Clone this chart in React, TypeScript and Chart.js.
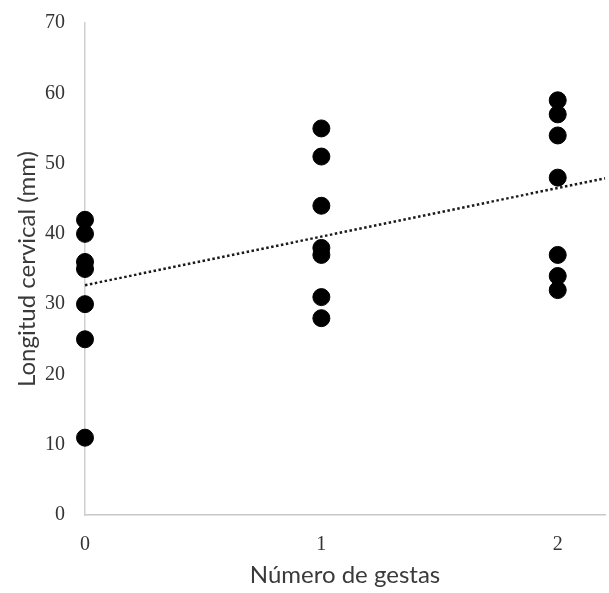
import React, { useEffect, useRef } from "react";
import { Chart, registerables } from "chart.js";

Chart.register(...registerables);

const gestas0: number[] = [42, 40, 36, 35, 30, 25, 11];
const gestas1: number[] = [55, 51, 44, 38, 37, 31, 28];
const gestas2: number[] = [59, 57, 54, 48, 37, 34, 32];
const xCategories: number[] = [0, 1, 2];
const xTickValues: number[] = [0, 1, 2];
const trendX: number[] = [0, 2.2];
const trendY: number[] = [32.7, 47.9];

export default function App() {
  const ref = useRef<HTMLCanvasElement | null>(null);
  useEffect(() => {
    if (!ref.current) return;
    const groups = [gestas0, gestas1, gestas2];
    const points: { x: number; y: number }[] = [];
    groups.forEach((g, i) => g.forEach((v) => points.push({ x: xCategories[i], y: v })));
    const trend = trendX.map((x, i) => ({ x, y: trendY[i] }));
    const chart = new Chart(ref.current, {
      type: "scatter",
      data: {
        datasets: [
          {
            type: "line",
            data: trend,
            borderColor: "#1a1a1a",
            borderWidth: 2.5,
            borderDash: [2.5, 2.5],
            pointRadius: 0,
            fill: false,
            clip: false,
            order: 2,
          } as any,
          {
            data: points,
            backgroundColor: "#000",
            borderColor: "#000",
            pointRadius: 8.5,
            pointHoverRadius: 8.5,
            clip: false,
            order: 1,
          } as any,
        ],
      },
      options: {
        animation: false,
        responsive: false,
        layout: { autoPadding: false, padding: { top: 23, right: 4, left: 0, bottom: 0 } },
        plugins: { legend: { display: false }, tooltip: { enabled: false } },
        scales: {
          x: {
            type: "linear",
            min: 0,
            max: 2.2,
            afterBuildTicks: (s: any) => {
              s.ticks = xTickValues.map((v) => ({ value: v }));
            },
            afterFit: (s: any) => {
              s.height = 78;
              s.paddingLeft = 0;
              s.paddingRight = 0;
            },
            grid: { display: false, drawTicks: false },
            border: { display: true, color: "#c8c8c8", width: 1.5 },
            ticks: {
              padding: 18,
              color: "#333",
              font: { family: "'Liberation Serif', serif", size: 20 },
            },
            title: {
              display: true,
              text: "Número de gestas",
              color: "#3a3a3a",
              font: { family: "Lato", size: 24 },
              padding: { top: 2, bottom: 3.6 },
            },
          },
          y: {
            type: "linear",
            min: 0,
            max: 70,
            afterFit: (s: any) => {
              s.width = 85;
              s.paddingTop = 0;
              s.paddingBottom = 0;
            },
            grid: { display: false, drawTicks: false },
            border: { display: true, color: "#d0d0d0", width: 1.5 },
            ticks: {
              stepSize: 10,
              padding: 20,
              color: "#333",
              font: { family: "'Liberation Serif', serif", size: 20 },
            },
            title: {
              display: true,
              text: "Longitud cervical (mm)",
              color: "#3a3a3a",
              font: { family: "Lato", size: 24 },
              padding: { top: 12.6, bottom: 0 },
            },
          },
        },
      },
    });
    return () => chart.destroy();
  }, []);
  return (
    <div style={{ position: "fixed", left: 0, top: 0, width: 609, height: 593, background: "#fff" }}>
      <canvas ref={ref} width={609} height={593} style={{ width: 609, height: 593 }} />
    </div>
  );
}
